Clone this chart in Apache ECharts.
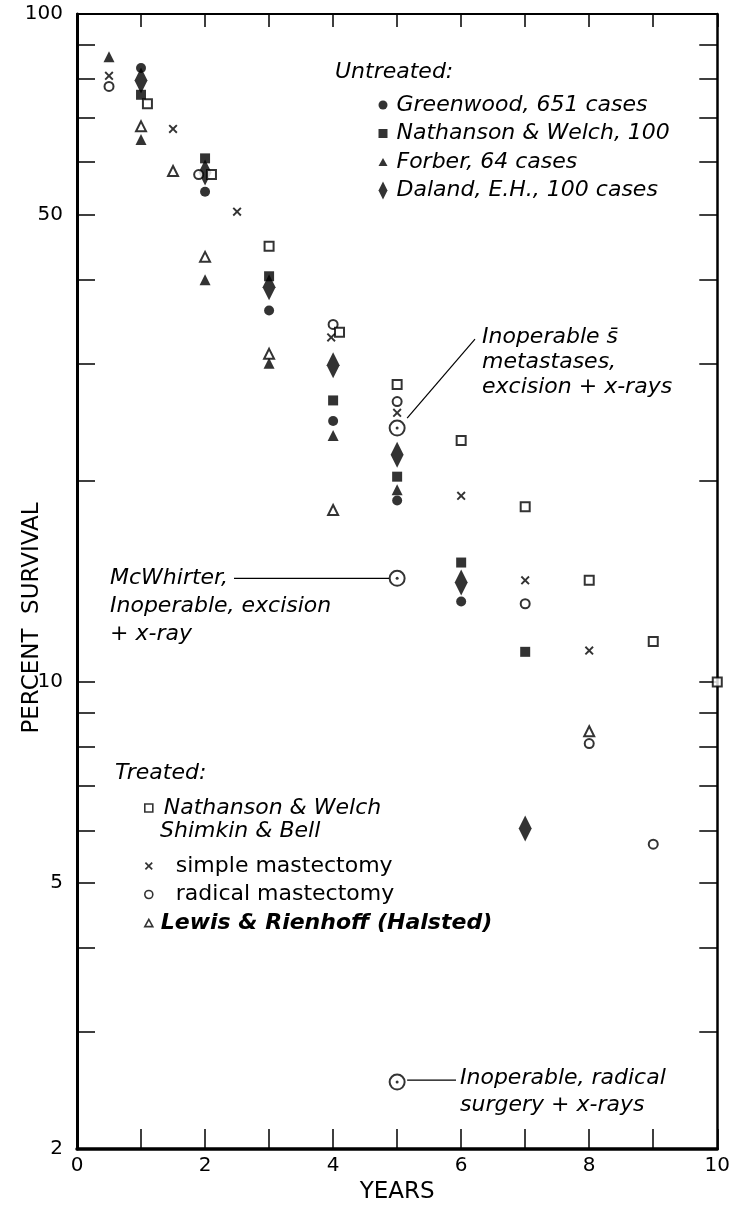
<!DOCTYPE html>
<html><head><meta charset="utf-8">
<script src="https://cdn.jsdelivr.net/npm/echarts@6/dist/echarts.min.js"></script>
<style>html,body{margin:0;padding:0;background:#fff}#c{width:733px;height:1209px}</style>
</head><body><div id="c"></div>
<script>
// ---- axis ticks / labels ----
const xLabelValues = [0, 2, 4, 6, 8, 10];
const yTickValues = [3, 4, 5, 6, 7, 8, 9, 10, 20, 30, 40, 50, 60, 70, 80, 90];
const yLabelValues = [2, 5, 10, 50, 100];

// ---- Untreated ----
const greenwood = [[1, 83], [2, 54.2], [3, 36], [4, 24.6], [5, 18.7], [6, 13.2]];
const nathansonUntreated = [[1, 75.7], [2, 60.8], [3, 40.5], [4, 26.4], [5, 20.3], [6, 15.1], [7, 11.1]];
const forber = [[0.5, 86.3], [1, 64.9], [2, 40], [3, 30], [4, 23.4], [5, 19.4]];
const daland = [[1, 79.5], [2, 57.9], [3, 39], [4, 29.8], [5, 21.9], [6, 14.1], [7, 6.04]];

// ---- Treated ----
const nathansonShimkin = [[1.1, 73.4], [2.1, 57.5], [3, 44.9], [4.1, 33.4], [5, 27.9], [6, 23.0], [7, 18.3], [8, 14.2], [9, 11.5], [10, 10]];
const simpleMastectomy = [[0.5, 80.8], [1.5, 67.3], [2.5, 50.6], [3.97, 32.8], [5, 25.3], [6, 19.0], [7, 14.2], [8, 11.15]];
const radicalMastectomy = [[0.5, 77.9], [1.9, 57.5], [4, 34.3], [5, 26.3], [7, 13.1], [8, 8.09], [9, 5.72]];
const lewisRienhoff = [[1, 67.9], [1.5, 58.2], [2, 43.3], [3, 31], [4, 18.1], [8, 8.44]];

// ---- Inoperable (circled dot) ----
const inoperableMetastases = [[5, 24.0]];
const mcWhirter = [[5, 14.3]];
const inoperableRadical = [[5, 2.52]];

const FONT = 'DejaVu Sans';
const TXT = 22;
const circleIcon = 'path://M5,0A5,5,0,1,1,5,10A5,5,0,1,1,5,0Z';
const squareIcon = 'path://M0,0L10,0L10,10L0,10Z';
const triIcon = 'path://M5,0L10,9L0,9Z';
const diamondIcon = 'path://M5,0L10,10L5,20L0,10Z';
const crossIcon = 'path://M0,1.5L1.5,0L5,3.5L8.5,0L10,1.5L6.5,5L10,8.5L8.5,10L5,6.5L1.5,10L0,8.5L3.5,5Z';

const filled = () => ({ color: '#000', borderWidth: 0 });
const open = () => ({ color: '#fff', borderColor: '#000', borderWidth: 2 });

function sc(name, data, symbol, size, style, z) {
  return { type: 'scatter', name, data, symbol, symbolSize: size, itemStyle: style,
    clip: false, z: z || 2, emphasis: { disabled: true }, silent: true };
}

const allInoperable = inoperableMetastases.concat(mcWhirter, inoperableRadical);

const series = [
  sc('Daland, E.H., 100 cases', daland, 'diamond', [13, 26], filled(), 2),
  sc('Greenwood, 651 cases', greenwood, 'circle', 10, filled(), 3),
  sc('Nathanson & Welch, 100', nathansonUntreated, 'rect', 10, filled(), 3),
  sc('Forber, 64 cases', forber, 'triangle', 11, filled(), 3),
  sc('Lewis & Rienhoff (Halsted)', lewisRienhoff, 'triangle', 10, open(), 4),
  sc('radical mastectomy', radicalMastectomy, 'circle', 9, open(), 4),
  sc('simple mastectomy', simpleMastectomy, crossIcon, 9, filled(), 4),
  sc('Nathanson & Welch', nathansonShimkin, 'rect', 9, open(), 4),
  sc('inoperable ring', allInoperable, 'circle', 15, open(), 5),
  sc('inoperable dot', allInoperable, 'circle', 3, filled(), 6)
];

const axisFont = () => ({ fontFamily: FONT, fontSize: 20, color: '#000' });
const italic = () => ({ fontFamily: FONT, fontSize: TXT, fontStyle: 'italic', color: '#000' });
const tickStyle = () => ({ color: '#000', width: 1.5 });

const chart = echarts.init(document.getElementById('c'), null, { renderer: 'canvas' });
const option = {
  backgroundColor: '#fff',
  animation: false,
  grid: { left: 77, right: 7, top: 14, bottom: 55, containLabel: false },
  xAxis: [
    { type: 'value', min: 0, max: 10, interval: 1, position: 'bottom',
      axisLine: { onZero: false, lineStyle: { color: '#000', width: 3.5 } },
      axisTick: { inside: true, length: 20, lineStyle: tickStyle() },
      axisLabel: Object.assign(axisFont(), { margin: 7, formatter: v => xLabelValues.includes(v) ? String(v) : '' }),
      splitLine: { show: false },
      name: 'YEARS', nameLocation: 'middle', nameGap: 31,
      nameTextStyle: { fontFamily: FONT, fontSize: 23, color: '#000' } },
    { type: 'value', min: 0, max: 10, interval: 1, position: 'top',
      axisLine: { onZero: false, lineStyle: { color: '#000', width: 2 } },
      axisTick: { inside: true, length: 13, lineStyle: tickStyle() },
      axisLabel: { show: false }, splitLine: { show: false } }
  ],
  yAxis: [
    { type: 'log', logBase: 10, min: 2, max: 100, position: 'left',
      axisLine: { onZero: false, lineStyle: { color: '#000', width: 3 } },
      axisTick: { inside: true, length: 18, customValues: yTickValues, lineStyle: tickStyle() },
      axisLabel: Object.assign(axisFont(), { margin: 14, customValues: yLabelValues }),
      splitLine: { show: false } },
    { type: 'log', logBase: 10, min: 2, max: 100, position: 'right',
      axisLine: { onZero: false, lineStyle: { color: '#000', width: 2.5 } },
      axisTick: { inside: true, length: 18, customValues: yTickValues, lineStyle: tickStyle() },
      axisLabel: { show: false }, splitLine: { show: false } }
  ],
  legend: [
    { orient: 'vertical', left: 373.5, top: 89, itemWidth: 9, itemHeight: 22, itemGap: 6.5,
      symbolKeepAspect: true, selectedMode: false,
      textStyle: Object.assign(italic(), { lineHeight: 22, padding: [0, 0, 0, 4] }),
      itemStyle: { color: '#000', borderWidth: 0 },
      data: [
        { name: 'Greenwood, 651 cases', icon: circleIcon },
        { name: 'Nathanson & Welch, 100', icon: squareIcon },
        { name: 'Forber, 64 cases', icon: triIcon },
        { name: 'Daland, E.H., 100 cases', icon: diamondIcon }
      ] },
    { orient: 'vertical', left: 139, top: 792, itemWidth: 8, itemHeight: 22, itemGap: 6.5,
      symbolKeepAspect: true, selectedMode: false,
      textStyle: Object.assign(italic(), { lineHeight: 22, padding: [0, 0, 0, 6] }),
      itemStyle: { color: '#fff', borderColor: '#000', borderWidth: 1.6 },
      data: [ { name: 'Nathanson & Welch', icon: squareIcon } ] },
    { orient: 'vertical', left: 139, top: 850, itemWidth: 8, itemHeight: 22, itemGap: 6.5,
      symbolKeepAspect: true, selectedMode: false,
      textStyle: Object.assign(italic(), { lineHeight: 22 }),
      data: [
        { name: 'simple mastectomy', icon: crossIcon, itemStyle: { color: '#000', borderWidth: 0 },
          textStyle: { fontStyle: 'normal', padding: [0, 0, 0, 18] } },
        { name: 'radical mastectomy', icon: circleIcon, itemStyle: { color: '#fff', borderColor: '#000', borderWidth: 1.6 },
          textStyle: { fontStyle: 'normal', padding: [0, 0, 0, 18] } },
        { name: 'Lewis & Rienhoff (Halsted)', icon: triIcon, itemStyle: { color: '#fff', borderColor: '#000', borderWidth: 1.6 },
          textStyle: { fontWeight: 'bold', fontStyle: 'italic', padding: [0, 0, 0, 3] } }
      ] }
  ],
  series
};
chart.setOption(option);

// annotations anchored to the data points
const pMet = chart.convertToPixel({ gridIndex: 0 }, inoperableMetastases[0]);
const pMc = chart.convertToPixel({ gridIndex: 0 }, mcWhirter[0]);
const pRad = chart.convertToPixel({ gridIndex: 0 }, inoperableRadical[0]);
function txt(x, y, text, st) {
  return { type: 'text', x, y, silent: true,
    style: Object.assign({ text, fill: '#000', fontFamily: FONT, fontSize: TXT, fontStyle: 'italic',
      align: 'left', verticalAlign: 'middle' }, st || {}) };
}
function ln(x1, y1, x2, y2) {
  return { type: 'line', silent: true, shape: { x1, y1, x2, y2 }, style: { stroke: '#000', lineWidth: 1.2 } };
}
chart.setOption({
  graphic: [
    txt(335, 72, 'Untreated:'),
    txt(115, 773, 'Treated:'),
    txt(160, 831, 'Shimkin & Bell'),
    txt(482, pMet[1] - 91, 'Inoperable s\u0304'),
    txt(482, pMet[1] - 66, 'metastases,'),
    txt(482, pMet[1] - 41, 'excision + x-rays'),
    ln(pMet[0] + 10, pMet[1] - 10, 475, pMet[1] - 89),
    txt(110, pMc[1], 'McWhirter,'),
    txt(110, pMc[1] + 28, 'Inoperable, excision'),
    txt(110, pMc[1] + 56, '+ x-ray'),
    ln(234, pMc[1], pMc[0] - 8, pMc[1]),
    ln(pRad[0] + 10, pRad[1] - 2, 456, pRad[1] - 2),
    txt(460, pRad[1] - 4, 'Inoperable, radical'),
    txt(460, pRad[1] + 23, 'surgery + x-rays'),
    { type: 'text', x: 32, y: 618, rotation: Math.PI / 2, silent: true,
      style: { text: 'PERCENT  SURVIVAL', fill: '#000', fontFamily: FONT, fontSize: 23,
        align: 'center', verticalAlign: 'middle' } }
  ]
});
</script></body></html>
